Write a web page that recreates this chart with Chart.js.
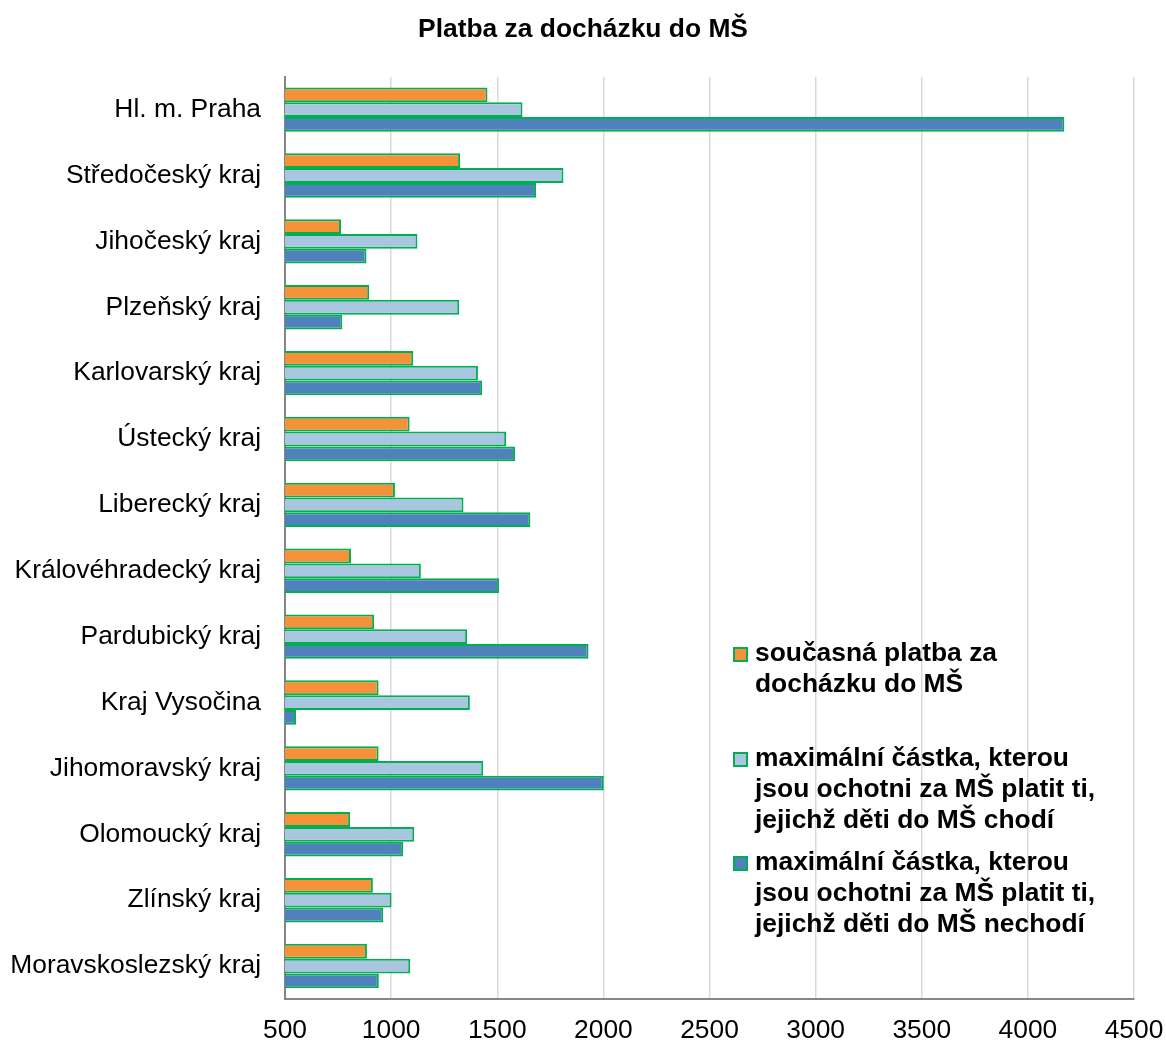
<!DOCTYPE html>
<html>
<head>
<meta charset="utf-8">
<script src="https://cdn.jsdelivr.net/npm/chart.js@4.4.1/dist/chart.umd.min.js"></script>
<style>
  html, body { margin: 0; padding: 0; background: #fff; }
  #wrap { position: relative; width: 1166px; height: 1042px; }
  #legend { position: absolute; left: 733px; top: 0; font-family: "Liberation Sans", Arial, sans-serif; font-weight: bold; font-size: 26.4px; color: #000; }
  .item { position: absolute; left: 0; white-space: nowrap; line-height: 31px; }
  .box { position: absolute; left: 0; width: 15px; height: 15px; box-sizing: border-box; border: 2px solid #00B050; }
  .txt { position: absolute; left: 22px; top: 0; }
</style>
</head>
<body>
<div id="wrap">
  <canvas id="c" width="1166" height="1042"></canvas>
  <div id="legend"></div>
</div>
<script>
const chartTitle = "Platba za docházku do MŠ";
const categories = [
  "Hl. m. Praha", "Středočeský kraj", "Jihočeský kraj", "Plzeňský kraj",
  "Karlovarský kraj", "Ústecký kraj", "Liberecký kraj", "Královéhradecký kraj",
  "Pardubický kraj", "Kraj Vysočina", "Jihomoravský kraj", "Olomoucký kraj",
  "Zlínský kraj", "Moravskoslezský kraj"
];
const seriesLabels = [
  "současná platba za docházku do MŠ",
  "maximální částka, kterou jsou ochotni za MŠ platit ti, jejichž děti do MŠ chodí",
  "maximální částka, kterou jsou ochotni za MŠ platit ti, jejichž děti do MŠ nechodí"
];
const legendLines = [
  ["současná platba za", "docházku do MŠ"],
  ["maximální částka, kterou", "jsou ochotni za MŠ platit ti,", "jejichž děti do MŠ chodí"],
  ["maximální částka, kterou", "jsou ochotni za MŠ platit ti,", "jejichž děti do MŠ nechodí"]
];
const currentPayment = [1454, 1325, 764, 897, 1104, 1087, 1018, 811, 920, 941, 941, 807, 914, 886];
const maxAttending   = [1619, 1812, 1124, 1321, 1409, 1542, 1341, 1140, 1358, 1371, 1434, 1109, 1002, 1090];
const maxNotAttending= [4172, 1683, 884, 770, 1429, 1584, 1656, 1509, 1930, 552, 2002, 1057, 963, 942];
const xTicks = [500, 1000, 1500, 2000, 2500, 3000, 3500, 4000, 4500];

const colors = ["#F59239", "#A8C6E0", "#4F81BD"];
const borderColor = "#00B050";
const FONT = "'Liberation Sans', Arial, sans-serif";

const seriesData = [currentPayment, maxAttending, maxNotAttending];

const chart = new Chart(document.getElementById('c'), {
  type: 'bar',
  data: {
    labels: categories,
    datasets: seriesData.map((d, i) => ({
      label: seriesLabels[i],
      data: d,
      backgroundColor: colors[i],
      borderColor: borderColor,
      borderWidth: 2,
      borderSkipped: false,
      categoryPercentage: 0.674,
      barPercentage: 1.0
    }))
  },
  options: {
    indexAxis: 'y',
    responsive: false,
    animation: false,
    layout: { padding: 0 },
    plugins: {
      legend: { display: false },
      tooltip: { enabled: false },
      title: {
        display: true,
        text: chartTitle,
        color: '#000',
        font: { family: FONT, size: 26.4, weight: 'bold' },
        padding: { top: 14, bottom: 31 }
      }
    },
    scales: {
      x: {
        type: 'linear',
        min: 500,
        max: 4500,
        beginAtZero: false,
        afterBuildTicks: (s) => { s.ticks = xTicks.map(v => ({ value: v })); },
        ticks: { color: '#000', font: { family: FONT, size: 26.4 }, padding: 16, maxRotation: 0,
                 callback: (v) => String(v) },
        grid: { color: '#d9d9d9', lineWidth: 1.5, drawTicks: false },
        border: { display: true, color: '#868686', width: 2 },
        afterFit: (s) => { s.height = 43; s.paddingRight = 32; s.paddingLeft = 0; }
      },
      y: {
        ticks: { color: '#000', font: { family: FONT, size: 26.4 }, padding: 24, autoSkip: false },
        grid: { display: false, drawTicks: false },
        border: { display: true, color: '#868686', width: 2 },
        afterFit: (s) => { s.width = 285; s.paddingTop = 0; s.paddingBottom = 0; }
      }
    }
  }
});

// HTML legend built from the series arrays
const legend = document.getElementById('legend');
const itemTops = [637, 742, 846];
legendLines.forEach((lines, i) => {
  const item = document.createElement('div');
  item.className = 'item';
  item.style.top = itemTops[i] + 'px';
  const box = document.createElement('div');
  box.className = 'box';
  box.style.background = colors[i];
  box.style.top = '10px';
  const txt = document.createElement('div');
  txt.className = 'txt';
  txt.innerHTML = lines.join('<br>');
  item.appendChild(box);
  item.appendChild(txt);
  legend.appendChild(item);
});
</script>
</body>
</html>
